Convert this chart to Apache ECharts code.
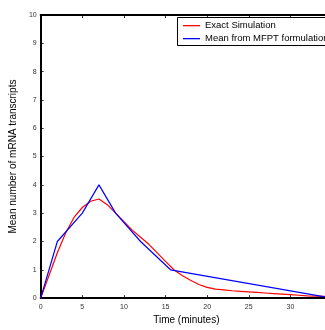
<!DOCTYPE html>
<html><head><meta charset="utf-8">
<script src="https://cdn.jsdelivr.net/npm/echarts@6/dist/echarts.min.js"></script>
<style>html,body{margin:0;padding:0;background:#fff;overflow:hidden}#wrap{width:325px;height:330px;overflow:hidden;position:relative}#c{width:332px;height:330px;position:absolute;left:0;top:0}</style>
</head><body><div id="wrap"><div id="c"></div></div>
<script>
const exactT = [0,1,2,3,4,5,6,7,8,9,10,11,12,13,14,15,16,17,18,19,20,21,22,23,24,25,26,27,28,29,30,31,32,33,34,35];
const exactY = [0,0.8,1.6,2.3,2.85,3.2,3.42,3.5,3.3,3.0,2.7,2.4,2.15,1.9,1.6,1.3,1.0,0.8,0.63,0.48,0.38,0.32,0.29,0.26,0.24,0.22,0.2,0.18,0.16,0.14,0.12,0.1,0.08,0.07,0.06,0.05];
const mfptT = [0,2,5,7,9,12,15.6,35];
const mfptY = [0,2,3,4,3,2,1,0];
const seriesNames = ['Exact Simulation','Mean from MFPT formulation'];

const chart = echarts.init(document.getElementById('c'), null, {width:332, height:330});
const tickLbl = {fontSize:7, color:'#333', fontFamily:'Liberation Sans'};
chart.setOption({
  animation:false,
  grid:{left:37,top:15,right:0,bottom:23,show:false},
  legend:{show:false},
  xAxis:[{
    type:'value', min:0, max:35, interval:5,
    axisLine:{show:true,onZero:false,lineStyle:{color:'#000',width:2}},
    axisTick:{show:true,inside:true,length:3,lineStyle:{color:'#000',width:0.8}},
    axisLabel:Object.assign({margin:5,showMaxLabel:false},tickLbl),
    splitLine:{show:false},
    name:'Time (minutes)', nameLocation:'middle', nameGap:12,
    nameTextStyle:{fontSize:10,color:'#000',fontFamily:'Liberation Sans'}
  },{
    type:'value', position:'top', min:0, max:35, interval:5,
    axisLine:{show:true,onZero:false,lineStyle:{color:'#000',width:2}},
    axisTick:{show:true,inside:true,length:3,lineStyle:{color:'#000',width:0.8}},
    axisLabel:{show:false}, splitLine:{show:false}
  }],
  yAxis:{
    type:'value', min:0, max:10, interval:1,
    axisLine:{show:true,lineStyle:{color:'#000',width:2}},
    axisTick:{show:true,inside:true,length:3,lineStyle:{color:'#000',width:0.8}},
    axisLabel:Object.assign({margin:4},tickLbl),
    splitLine:{show:false},
    name:'Mean number of mRNA transcripts', nameLocation:'middle', nameGap:22,
    nameTextStyle:{fontSize:10,color:'#000',fontFamily:'Liberation Sans'}
  },
  series:[
    {name:seriesNames[0], type:'line', data:exactT.map((t,i)=>[t,exactY[i]]), showSymbol:false,
      lineStyle:{color:'#ff0000',width:1.2}, itemStyle:{color:'#ff0000'}, z:3},
    {name:seriesNames[1], type:'line', data:mfptT.map((t,i)=>[t,mfptY[i]]), showSymbol:false,
      lineStyle:{color:'#0000ff',width:1.2}, itemStyle:{color:'#0000ff'}, z:4}
  ],
  graphic:[
    {type:'rect', shape:{x:177.5,y:17.5,width:160,height:28}, style:{fill:'#fff',stroke:'#000',lineWidth:1}, z:10},
    {type:'rect', shape:{x:183,y:25,width:17,height:1.3}, style:{fill:'#ff0000'}, z:11},
    {type:'rect', shape:{x:183,y:38,width:17,height:1.3}, style:{fill:'#0000ff'}, z:11},
    {type:'text', left:205, top:20, style:{text:seriesNames[0],fontSize:9.5,fill:'#000',fontFamily:'Liberation Sans'}, z:11},
    {type:'text', left:205, top:33, style:{text:seriesNames[1],fontSize:9.5,fill:'#000',fontFamily:'Liberation Sans'}, z:11}
  ]
});
</script></body></html>
